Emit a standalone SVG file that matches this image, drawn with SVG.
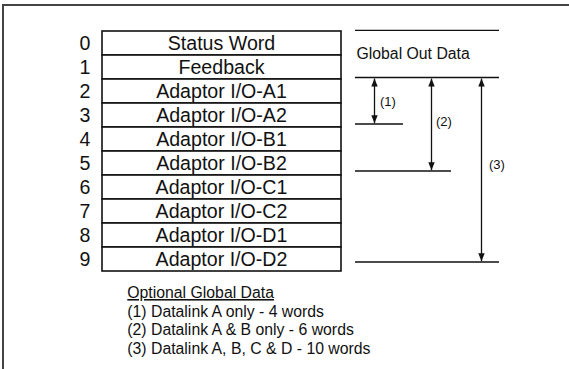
<svg xmlns="http://www.w3.org/2000/svg" width="569" height="369" viewBox="0 0 569 369">
<style>
  .t { font-family: "Liberation Sans", Arial, sans-serif; fill: #111; }
  .row { font-size: 19.6px; text-anchor: middle; }
  .cell { fill: #fff; stroke: #111; stroke-width: 1.6; }
  .rule { stroke: #111; stroke-width: 1.3; fill: none; }
  .lbl { font-size: 13px; }
  .leg { font-size: 15.8px; }
  .arrow { stroke: #111; stroke-width: 1.3; fill: none; marker-start: url(#ah); marker-end: url(#ah); }
</style>
<defs>
  <marker id="ah" viewBox="0 0 10 8" refX="10" refY="4" markerWidth="8" markerHeight="6.5" markerUnits="userSpaceOnUse" orient="auto-start-reverse">
    <path d="M0,0 L10,4 L0,8 Z" fill="#111"/>
  </marker>
</defs>
<rect width="569" height="369" fill="#fff"/>
<g id="frame">
  <path d="M3,369 L3,5 L569,5" fill="none" stroke="#444" stroke-width="2"/>
</g>
<g id="table">
  <g id="row0"><rect class="cell" x="102" y="31" width="239" height="24"/><text class="t row" x="221.5" y="50">Status Word</text><text class="t row" x="85" y="50">0</text></g>
  <g id="row1"><rect class="cell" x="102" y="55" width="239" height="24"/><text class="t row" x="221.5" y="74">Feedback</text><text class="t row" x="85" y="74">1</text></g>
  <g id="row2"><rect class="cell" x="102" y="79" width="239" height="24"/><text class="t row" x="221.5" y="98">Adaptor I/O-A1</text><text class="t row" x="85" y="98">2</text></g>
  <g id="row3"><rect class="cell" x="102" y="103" width="239" height="24"/><text class="t row" x="221.5" y="122">Adaptor I/O-A2</text><text class="t row" x="85" y="122">3</text></g>
  <g id="row4"><rect class="cell" x="102" y="127" width="239" height="24"/><text class="t row" x="221.5" y="146">Adaptor I/O-B1</text><text class="t row" x="85" y="146">4</text></g>
  <g id="row5"><rect class="cell" x="102" y="151" width="239" height="24"/><text class="t row" x="221.5" y="170">Adaptor I/O-B2</text><text class="t row" x="85" y="170">5</text></g>
  <g id="row6"><rect class="cell" x="102" y="175" width="239" height="24"/><text class="t row" x="221.5" y="194">Adaptor I/O-C1</text><text class="t row" x="85" y="194">6</text></g>
  <g id="row7"><rect class="cell" x="102" y="199" width="239" height="24"/><text class="t row" x="221.5" y="218">Adaptor I/O-C2</text><text class="t row" x="85" y="218">7</text></g>
  <g id="row8"><rect class="cell" x="102" y="223" width="239" height="24"/><text class="t row" x="221.5" y="242">Adaptor I/O-D1</text><text class="t row" x="85" y="242">8</text></g>
  <g id="row9"><rect class="cell" x="102" y="247" width="239" height="24"/><text class="t row" x="221.5" y="266">Adaptor I/O-D2</text><text class="t row" x="85" y="266">9</text></g>
</g>
<g id="global-out">
  <line class="rule" x1="355" y1="30.3" x2="499" y2="30.3"/>
  <text class="t" x="356.5" y="58.5" font-size="15.8">Global Out Data</text>
  <line class="rule" x1="355" y1="77.5" x2="499" y2="77.5"/>
</g>
<g id="markers">
  <line class="rule" x1="355" y1="124" x2="403" y2="124"/>
  <line class="rule" x1="355" y1="171" x2="451" y2="171"/>
  <line class="rule" x1="355" y1="262" x2="499" y2="262"/>
</g>
<g id="connectors">
  <line class="arrow" x1="374.5" y1="78.5" x2="374.5" y2="123.3"/>
  <line class="arrow" x1="431.5" y1="78.5" x2="431.5" y2="170.3"/>
  <line class="arrow" x1="481.5" y1="78.5" x2="481.5" y2="261.3"/>
  <text class="t lbl" x="380" y="106">(1)</text>
  <text class="t lbl" x="436" y="126">(2)</text>
  <text class="t lbl" x="489" y="169">(3)</text>
</g>
<g id="legend">
  <text class="t leg" x="127.3" y="298" text-decoration="underline">Optional Global Data</text>
  <text class="t leg" x="127.3" y="316.5">(1) Datalink A only - 4 words</text>
  <text class="t leg" x="127.3" y="335">(2) Datalink A &amp; B only - 6 words</text>
  <text class="t leg" x="127.3" y="353.5">(3) Datalink A, B, C &amp; D - 10 words</text>
</g>
</svg>
